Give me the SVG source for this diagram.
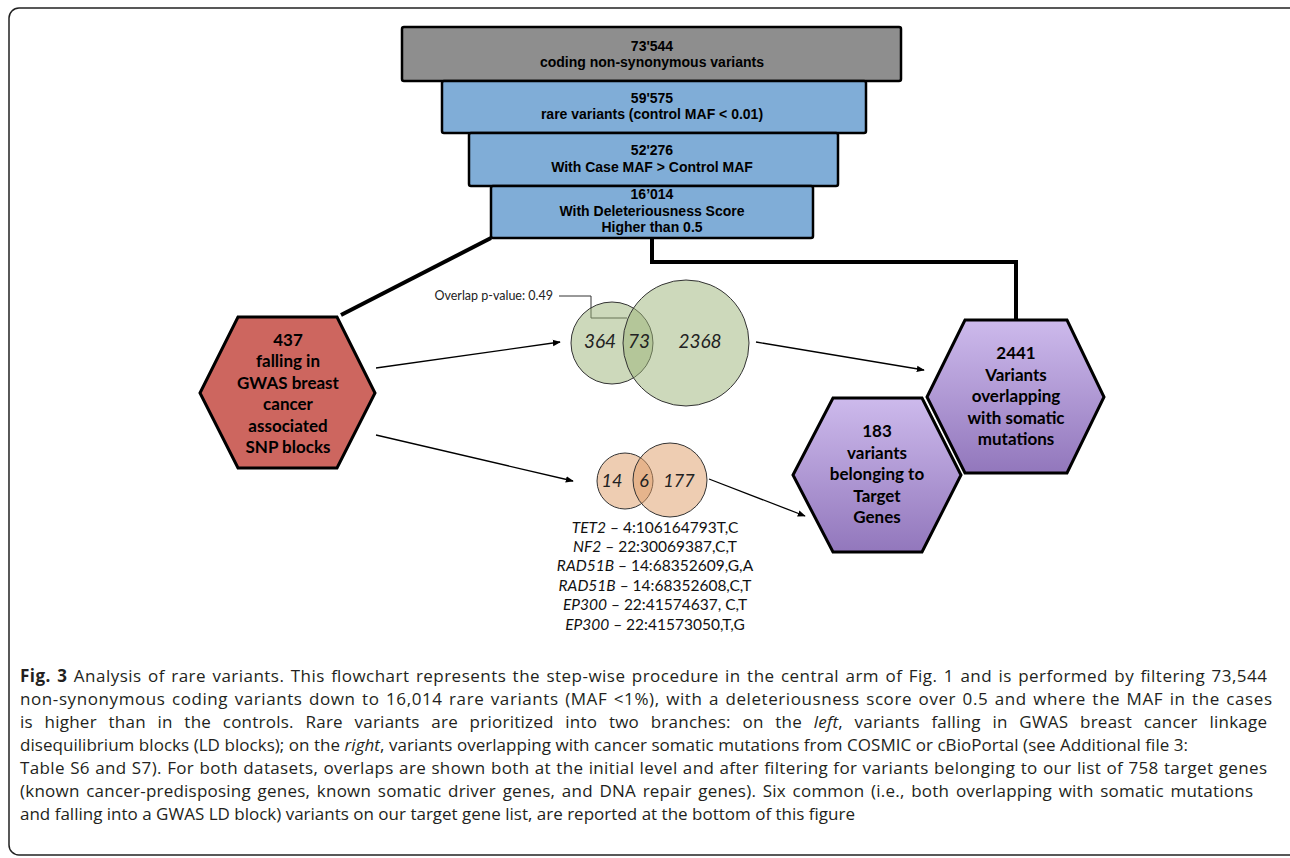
<svg xmlns="http://www.w3.org/2000/svg" width="1290" height="858" viewBox="0 0 1290 858">
<defs>
<style>
.box{stroke:#000;stroke-width:2.5;}
.bt{font-family:"Liberation Sans",Arial,sans-serif;font-weight:bold;font-size:14px;fill:#000;text-anchor:middle;}
.hex{stroke:#000;stroke-width:3;stroke-linejoin:miter;}
.ht{font-family:Lato,"Open Sans",sans-serif;font-weight:bold;font-size:17px;fill:#000;text-anchor:middle;}
.vt{font-family:Lato,"Open Sans",sans-serif;font-style:italic;fill:#222;text-anchor:middle;}
.gl{font-family:Lato,"Open Sans",sans-serif;font-size:15.5px;fill:#111;text-anchor:middle;}
.cap{font-family:"Open Sans","Liberation Sans",sans-serif;font-size:17px;fill:#231f20;}
.thick{fill:none;stroke:#000;stroke-width:4;}
.arr{fill:none;stroke:#000;stroke-width:1.3;marker-end:url(#ah);}
</style>
<marker id="ah" viewBox="0 0 10 10" refX="9" refY="5" markerWidth="8" markerHeight="8" markerUnits="userSpaceOnUse" orient="auto">
<path d="M0,1 L10,5 L0,9 z" fill="#000"/>
</marker>
<linearGradient id="pg" x1="0" y1="0" x2="0" y2="1">
<stop offset="0" stop-color="#cdbaec"/>
<stop offset="1" stop-color="#9277bc"/>
</linearGradient>
</defs>
<rect x="9" y="8" width="1290" height="847" rx="10" fill="#fff" stroke="#222" stroke-width="1.5"/>

<g id="connectors">
<line class="thick" x1="491" y1="238" x2="341" y2="315"/>
<polyline class="thick" points="652,238 652,262 1016,262 1016,320"/>
<line class="arr" x1="376" y1="368" x2="560" y2="342"/>
<line class="arr" x1="376" y1="435" x2="573" y2="481"/>
<line class="arr" x1="756" y1="342" x2="924" y2="370"/>
<line class="arr" x1="709" y1="479" x2="805" y2="516"/>
<polyline points="559,296 591,296 591,318 627,318" fill="none" stroke="#333" stroke-width="1"/>
</g>

<g id="box1">
<rect class="box" x="402" y="27" width="499" height="54" rx="2" fill="#8e8e8e"/>
<text class="bt" x="652" y="51">73'544</text>
<text class="bt" x="652" y="67">coding non-synonymous variants</text>
</g>
<g id="box2">
<rect class="box" x="442" y="81" width="424" height="52" rx="2" fill="#80add7"/>
<text class="bt" x="652" y="103">59'575</text>
<text class="bt" x="652" y="119">rare variants (control MAF &lt; 0.01)</text>
</g>
<g id="box3">
<rect class="box" x="469" y="133" width="369" height="53" rx="2" fill="#80add7"/>
<text class="bt" x="652" y="155">52'276</text>
<text class="bt" x="652" y="172">With Case MAF &gt; Control MAF</text>
</g>
<g id="box4">
<rect class="box" x="491" y="186" width="322" height="52" rx="2" fill="#80add7"/>
<text class="bt" x="652" y="199">16’014</text>
<text class="bt" x="652" y="216">With Deleteriousness Score</text>
<text class="bt" x="652" y="232">Higher than 0.5</text>
</g>

<g id="gwas">
<polygon class="hex" points="200,393 238,317 337,317 375,393 337,468 238,468" fill="#cd665f"/>
<text class="ht" x="288" y="345.5">437</text>
<text class="ht" x="288" y="367">falling in</text>
<text class="ht" x="288" y="388.5">GWAS breast</text>
<text class="ht" x="288" y="410">cancer</text>
<text class="ht" x="288" y="431.5">associated</text>
<text class="ht" x="288" y="453">SNP blocks</text>
</g>

<g id="venn-green">
<text x="553" y="300" text-anchor="end" font-family="Lato,'Open Sans',sans-serif" font-size="12.5" fill="#222">Overlap p-value: 0.49</text>
<circle cx="612" cy="343" r="41" fill="#9bb377" fill-opacity="0.5" stroke="#333" stroke-width="1"/>
<circle cx="686" cy="343" r="63" fill="#9bb377" fill-opacity="0.5" stroke="#333" stroke-width="1"/>
<text class="vt" x="600" y="348" font-size="19">364</text>
<text class="vt" x="639" y="348" font-size="19">73</text>
<text class="vt" x="700" y="348" font-size="19">2368</text>
</g>

<g id="venn-orange">
<circle cx="625" cy="481" r="28" fill="#dd9c66" fill-opacity="0.5" stroke="#333" stroke-width="1"/>
<circle cx="670" cy="480" r="37" fill="#dd9c66" fill-opacity="0.5" stroke="#333" stroke-width="1"/>
<text class="vt" x="612" y="487" font-size="18">14</text>
<text class="vt" x="644" y="487" font-size="18">6</text>
<text class="vt" x="679" y="487" font-size="18">177</text>
</g>

<g id="gene-list">
<text class="gl" x="655" y="532.5"><tspan font-style="italic">TET2</tspan> – 4:106164793T,C</text>
<text class="gl" x="655" y="551.9"><tspan font-style="italic">NF2</tspan> – 22:30069387,C,T</text>
<text class="gl" x="655" y="571.3"><tspan font-style="italic">RAD51B</tspan> – 14:68352609,G,A</text>
<text class="gl" x="655" y="590.7"><tspan font-style="italic">RAD51B</tspan> – 14:68352608,C,T</text>
<text class="gl" x="655" y="610.1"><tspan font-style="italic">EP300</tspan> – 22:41574637, C,T</text>
<text class="gl" x="655" y="629.5"><tspan font-style="italic">EP300</tspan> – 22:41573050,T,G</text>
</g>

<g id="somatic">
<polygon class="hex" points="927,397 965,320 1067,320 1104,397 1067,473 965,473" fill="url(#pg)"/>
<text class="ht" x="1016" y="359">2441</text>
<text class="ht" x="1016" y="380.5">Variants</text>
<text class="ht" x="1016" y="402">overlapping</text>
<text class="ht" x="1016" y="423.5">with somatic</text>
<text class="ht" x="1016" y="445">mutations</text>
</g>

<g id="target">
<polygon class="hex" points="793,475 833,398 922,398 961,475 922,552 833,552" fill="url(#pg)"/>
<text class="ht" x="877" y="437">183</text>
<text class="ht" x="877" y="458.5">variants</text>
<text class="ht" x="877" y="480">belonging to</text>
<text class="ht" x="877" y="501.5">Target</text>
<text class="ht" x="877" y="523">Genes</text>
</g>

<g id="caption">
<text class="cap" x="20" y="682" word-spacing="1.5" textLength="1247" lengthAdjust="spacing"><tspan font-weight="bold">Fig. 3</tspan> Analysis of rare variants. This flowchart represents the step-wise procedure in the central arm of Fig. 1 and is performed by filtering 73,544</text>
<text class="cap" x="20" y="705" word-spacing="1.5" textLength="1252" lengthAdjust="spacing">non-synonymous coding variants down to 16,014 rare variants (MAF &lt;1%), with a deleteriousness score over 0.5 and where the MAF in the cases</text>
<text class="cap" x="20" y="728" word-spacing="7" textLength="1247" lengthAdjust="spacing">is higher than in the controls. Rare variants are prioritized into two branches: on the <tspan font-style="italic">left</tspan>, variants falling in GWAS breast cancer linkage</text>
<text class="cap" x="20" y="751" textLength="1168" lengthAdjust="spacing">disequilibrium blocks (LD blocks); on the <tspan font-style="italic">right</tspan>, variants overlapping with cancer somatic mutations from COSMIC or cBioPortal (see Additional file 3:</text>
<text class="cap" x="20" y="774" word-spacing="0.5" textLength="1247" lengthAdjust="spacing">Table S6 and S7). For both datasets, overlaps are shown both at the initial level and after filtering for variants belonging to our list of 758 target genes</text>
<text class="cap" x="20" y="797" word-spacing="2" textLength="1233" lengthAdjust="spacing">(known cancer-predisposing genes, known somatic driver genes, and DNA repair genes). Six common (i.e., both overlapping with somatic mutations</text>
<text class="cap" x="20" y="820">and falling into a GWAS LD block) variants on our target gene list, are reported at the bottom of this figure</text>
</g>
</svg>
